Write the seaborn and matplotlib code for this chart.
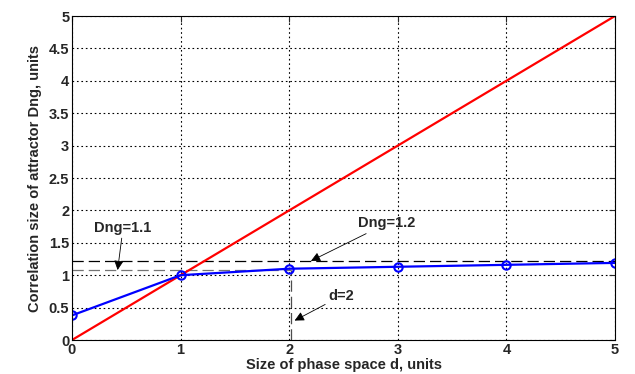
import matplotlib
matplotlib.use("Agg")
import matplotlib.pyplot as plt
import seaborn as sns
import pandas as pd

# data
d_values = [0, 1, 2, 3, 4, 5]
dng_values = [0.38, 1.0, 1.1, 1.13, 1.16, 1.19]
diag_values = [0, 1, 2, 3, 4, 5]
dng_high = 1.22
dng_low = 1.08
d_mark = 2.02
ticks_x = [0, 1, 2, 3, 4, 5]
ticks_y = [0, 0.5, 1, 1.5, 2, 2.5, 3, 3.5, 4, 4.5, 5]

sns.set_style("white")
plt.rcParams["font.family"] = ["Liberation Sans", "DejaVu Sans"]

fig = plt.figure(figsize=(6.35, 3.74), dpi=100)
ax = fig.add_axes([72 / 635, 34 / 374, 543 / 635, 324 / 374])

diag = pd.DataFrame({"d": d_values, "D": diag_values})
meas = pd.DataFrame({"d": d_values, "D": dng_values})

ax.grid(True, color="black", linestyle=(0, (1.5, 2.5)), linewidth=0.8)
ax.set_axisbelow(True)

# reference lines
ax.axhline(dng_high, color="black", linestyle=(0, (9, 4)), linewidth=0.9)
ax.plot([0, d_mark], [dng_low, dng_low], color="0.45",
        linestyle=(0, (9, 4)), linewidth=0.9)
ax.plot([d_mark, d_mark], [0, dng_low], color="0.3",
        linestyle=(0, (9, 4)), linewidth=0.9)

sns.lineplot(data=diag, x="d", y="D", color="red", linewidth=1.6, ax=ax)
sns.lineplot(data=meas, x="d", y="D", color="blue", linewidth=1.6,
             marker="o", markersize=6, markerfacecolor="none",
             markeredgecolor="blue", markeredgewidth=1.5, ax=ax)

arrow = dict(arrowstyle="-|>", color="black", lw=0.6,
             mutation_scale=14, shrinkA=0, shrinkB=0)
font = dict(fontsize=10.5, fontweight="bold", color="0.15")
ax.annotate("Dng=1.1", xy=(0.42, dng_low), xytext=(0.47, 1.73),
            ha="center", va="center", arrowprops=arrow, **font)
ax.annotate("Dng=1.2", xy=(2.2, dng_high), xytext=(2.9, 1.8),
            ha="center", va="center", arrowprops=arrow, **font)
ax.annotate("d=2", xy=(2.05, 0.3), xytext=(2.48, 0.68),
            ha="center", va="center", arrowprops=arrow, **font)

ax.set_xlim(0, 5)
ax.set_ylim(0, 5)
ax.set_xticks(ticks_x)
ax.set_yticks(ticks_y)
ax.set_xticklabels([str(t) for t in ticks_x], fontweight="bold")
ax.set_yticklabels([f"{t:g}" for t in ticks_y], fontweight="bold")
ax.tick_params(labelsize=10.5, direction="in", length=4, width=0.8,
               top=True, right=True, pad=2, labelcolor="0.15")
for s in ax.spines.values():
    s.set_color("black")
    s.set_linewidth(0.8)
ax.set_xlabel("Size of phase space d, units", fontsize=10.5,
              fontweight="bold", color="0.15", labelpad=1)
ax.set_ylabel("Correlation size of attractor Dng, units", fontsize=10.5,
              fontweight="bold", color="0.15", labelpad=5)

fig.savefig("out.png", dpi=100)
